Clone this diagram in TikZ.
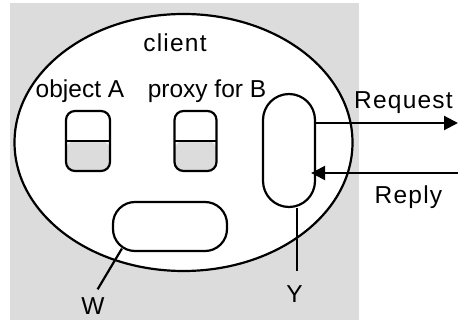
\documentclass[tikz,border=0pt]{standalone}
\usepackage{fontspec}
\setmainfont{Liberation Sans}
\newfontfamily\widefont[LetterSpace=5]{Liberation Sans}
\usetikzlibrary{arrows.meta,shapes.geometric}
\definecolor{panel}{HTML}{DCDCDC}
\begin{document}
\begin{tikzpicture}[x=1pt,y=-1pt,line width=2.2pt,
  lbl/.style={font=\fontsize{24.5}{28}\selectfont,anchor=base,inner sep=0pt},
  widelbl/.style={lbl,font=\fontsize{24.5}{28}\widefont},
  slot/.style={draw,rounded corners=9pt,minimum width=44pt,minimum height=60pt,inner sep=0pt,
    path picture={
      \fill[panel] (path picture bounding box.west) rectangle (path picture bounding box.south east);
      \draw (path picture bounding box.west) -- (path picture bounding box.east);}},
  pill/.style={draw,fill=white,inner sep=0pt},
  tip/.style={-{Triangle[length=14pt,width=14pt]}}]
\useasboundingbox (0,0) rectangle (458,320);
% grey panel behind the process
\fill[panel] (10,3) rectangle (359,320);
% the client process
\node[ellipse,draw,fill=white,minimum width=338pt,minimum height=257pt,inner sep=0pt] (client) at (183.5,142.5) {};
\node[widelbl] (clientlbl) at (175,52) {client};
% local object and proxy
\node[lbl] (alabel) at (80,98) {object A};
\node[lbl] (plabel) at (207,98) {proxy for B};
\node[slot] (objA) at (88,141) {};
\node[slot,minimum width=42pt] (proxy) at (195.5,141) {};
% communication module and dispatcher
\node[pill,rounded corners=26pt,minimum width=52pt,minimum height=113pt] (ybox) at (289,150.5) {};
\node[pill,rounded corners=22pt,minimum width=114pt,minimum height=49pt] (wbox) at (170,226.5) {};
% messages
\coordinate (reqtip) at (458,123);
\coordinate (repsrc) at (458,173);
\draw[tip] (ybox.east |- reqtip) -- (reqtip);
\draw[tip,shorten >=-5pt] (repsrc) -- (repsrc -| ybox.east);
\node[widelbl] (reqlbl) at (403.5,109) {Request};
\node[widelbl] (replbl) at (408.5,204) {Reply};
% part labels
\node[lbl] (wlbl) at (93,315) {W};
\node[lbl] (ylbl) at (294.5,303) {Y};
\draw[shorten >=9pt] ([xshift=10pt,yshift=3.5pt]wbox.south west) -- (wlbl.north);
\draw[shorten >=14pt] ([xshift=8pt]ybox.south) -- ([xshift=8pt]ybox.south |- ylbl.north);
\end{tikzpicture}
\end{document}
